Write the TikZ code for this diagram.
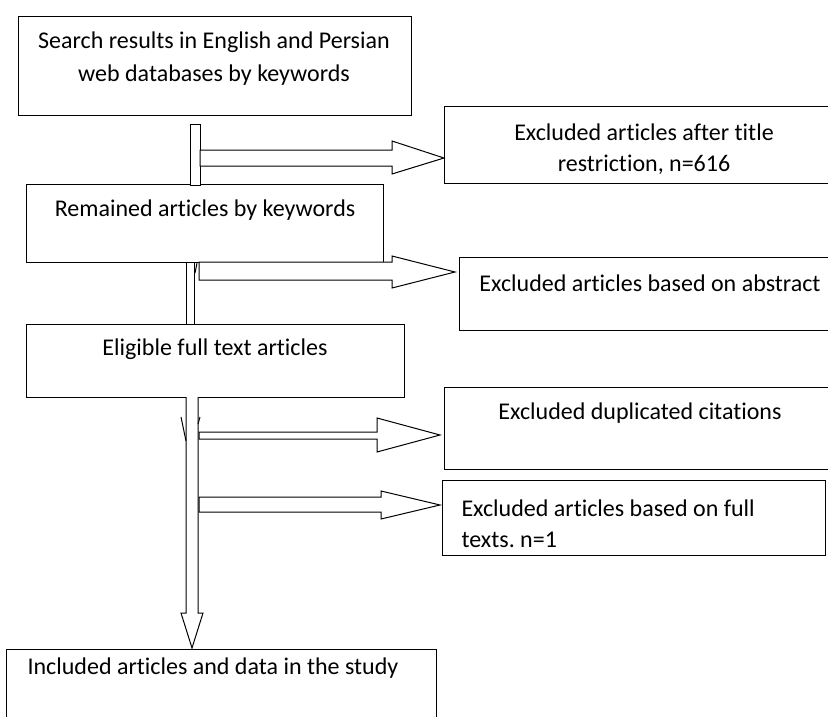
\documentclass[tikz,border=0pt]{standalone}
\usepackage{fontspec}
\setmainfont{Carlito}[Ligatures=NoCommon]
\frenchspacing
\begin{document}
\begin{tikzpicture}[x=1pt,y=-1pt,line width=1pt,
  boxnode/.style={draw,rectangle,inner sep=0pt,anchor=north west},
  txt/.style={font=\fontsize{24}{33}\selectfont,inner sep=0pt,align=center},
  blockarrow/.style={draw,fill=white,line join=miter}]
\clip (0,0) rectangle (828,717);
\fill[white] (0,0) rectangle (828,717);
% boxes
\node[boxnode,minimum width=393pt,minimum height=99pt] (b1) at (18,16) {};
\node[boxnode,minimum width=357pt,minimum height=78pt] (b2) at (26,184) {};
\node[boxnode,minimum width=378pt,minimum height=73pt] (b3) at (26,324) {};
\node[boxnode,minimum width=430pt,minimum height=150pt] (b4) at (6,649) {};
\node[boxnode,minimum width=456pt,minimum height=77pt] (e1) at (444,106) {};
\node[boxnode,minimum width=441pt,minimum height=73pt] (e2) at (459,257) {};
\node[boxnode,minimum width=456pt,minimum height=82pt] (e3) at (444,387) {};
\node[boxnode,minimum width=383pt,minimum height=75pt] (e4) at (442,480) {};
% texts
\node[txt] (t1a) at (214,42) {Search results in English and Persian};
\node[txt] (t1b) at (214,75) {web databases by keywords};
\node[txt] (t2) at (205,210) {Remained articles by keywords};
\node[txt] (t3) at (215,349) {Eligible full text articles};
\node[txt] (t4) at (213,668) {Included articles and data in the study};
\node[txt] (te1a) at (644,132) {Excluded articles after title};
\node[txt] (te1b) at (644,165) {restriction, n=616};
\node[txt] (te2) at (650,283) {Excluded articles based on abstract};
\node[txt] (te3) at (640,413) {Excluded duplicated citations};
\node[txt,anchor=west] (te4a) at (461,508) {Excluded articles based on full};
\node[txt,anchor=west] (te4b) at (461,540) {texts. n=1};
% vertical bars
\draw[fill=white] (190.5,124) rectangle (200,185);
\draw[fill=white] (186,262) rectangle (194,324);
% main down arrow
\draw[blockarrow] (186,397) -- (186,613) -- (181,613) -- (192,648) -- (203,613) -- (198,613) -- (198,397);
\draw (181,417) -- (186,441);
\draw (200,417) -- (198,424);
% side arrows
\draw[blockarrow] (200,150) -- (392,150) -- (392,141) -- (444,158) -- (392,174) -- (392,166) -- (200,166) -- cycle;
\draw[blockarrow] (199,262) -- (392,262) -- (392,256) -- (455,272) -- (392,288) -- (392,280) -- (199,280) -- cycle;
\draw (197,263) -- (195,273);
\draw[blockarrow] (199,432) -- (377,432) -- (377,418) -- (440,435) -- (377,452) -- (377,439) -- (199,439) -- cycle;
\draw[blockarrow] (199,497) -- (381,497) -- (381,491) -- (440,505) -- (381,519) -- (381,512) -- (199,512) -- cycle;
\end{tikzpicture}
\end{document}
